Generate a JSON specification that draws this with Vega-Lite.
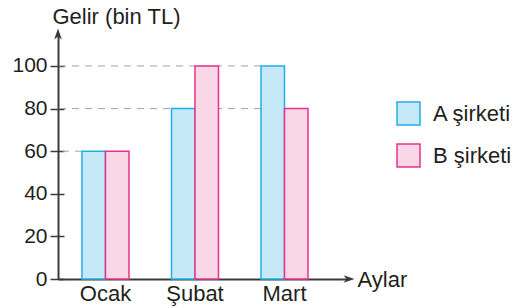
{
  "$schema": "https://vega.github.io/schema/vega-lite/v6.json",
  "width": 291,
  "height": 245,
  "autosize": "none",
  "padding": {"left": 58, "top": 34, "right": 179, "bottom": 29},
  "background": "white",
  "config": {
    "view": {"stroke": null},
    "font": "Liberation Sans",
    "axis": {
      "labelFont": "Liberation Sans",
      "titleFont": "Liberation Sans",
      "labelFontSize": 21,
      "titleFontSize": 22,
      "titleFontWeight": "normal",
      "labelColor": "#231f20",
      "titleColor": "#231f20",
      "domain": true,
      "domainColor": "#3a3a3a",
      "domainWidth": 2,
      "tickColor": "#3a3a3a",
      "tickWidth": 1.5,
      "grid": false
    }
  },
  "datasets": {
    "bars": [
      {"month": "Ocak", "company": "A şirketi", "value": 60},
      {"month": "Ocak", "company": "B şirketi", "value": 60},
      {"month": "Şubat", "company": "A şirketi", "value": 80},
      {"month": "Şubat", "company": "B şirketi", "value": 100},
      {"month": "Mart", "company": "A şirketi", "value": 100},
      {"month": "Mart", "company": "B şirketi", "value": 80}
    ],
    "guides": [
      {"value": 60, "end": "Ocak"},
      {"value": 80, "end": "Mart"},
      {"value": 100, "end": "Mart"}
    ],
    "arrow": [{"axis": "y"}]
  },
  "layer": [
    {
      "layer": [
        {
          "data": {"name": "guides"},
          "mark": {"type": "rule", "strokeDash": [7, 6], "color": "#a3a3a3", "strokeWidth": 1},
          "encoding": {
            "x": {"field": "end", "type": "nominal", "bandPosition": 0, "sort": null,
                  "scale": {"domain": ["Ocak", "Şubat", "Mart"], "paddingInner": 0.475, "paddingOuter": 0.363, "align": 0.369},
                  "axis": {"title": "Aylar", "labelAngle": 0, "ticks": false, "bandPosition": 0.5, "labelPadding": 4, "labelBaseline": "top",
                           "labelFontSize": 22,
                           "titleX": 299, "titleY": 7, "titleAlign": "left", "titleBaseline": "alphabetic", "titleAngle": 0}},
            "x2": {"value": 0},
            "y": {"field": "value", "type": "quantitative", "title": "Gelir (bin TL)"}
          }
        },
        {
          "data": {"name": "bars"},
          "mark": {"type": "bar", "strokeWidth": 1.5, "opacity": 1},
          "encoding": {
            "x": {"field": "month", "type": "nominal", "sort": null,
                  "scale": {"domain": ["Ocak", "Şubat", "Mart"], "paddingInner": 0.475, "paddingOuter": 0.363, "align": 0.369},
                  "axis": {"title": "Aylar", "labelAngle": 0, "ticks": false, "bandPosition": 0.5, "labelPadding": 4, "labelBaseline": "top",
                           "labelFontSize": 22,
                           "titleX": 299, "titleY": 7, "titleAlign": "left", "titleBaseline": "alphabetic", "titleAngle": 0}},
            "xOffset": {"field": "company", "type": "nominal", "scale": {"paddingInner": 0, "paddingOuter": 0}},
            "y": {"field": "value", "type": "quantitative",
                  "scale": {"domain": [0, 115], "nice": false},
                  "axis": {"title": "Gelir (bin TL)", "values": [0, 20, 40, 60, 80, 100], "tickSize": 8, "labelPadding": 3,
                           "titleAngle": 0, "titleAlign": "left", "titleBaseline": "alphabetic", "titleX": -6, "titleY": -11}},
            "color": {"field": "company", "type": "nominal",
                      "scale": {"domain": ["A şirketi", "B şirketi"], "range": ["#c6e9f8", "#f9d7e6"]},
                      "legend": {"orient": "none", "legendX": 338, "legendY": 67, "title": null, "symbolType": "square",
                                 "symbolSize": 529, "symbolStrokeWidth": 1.5, "labelFontSize": 22, "labelFont": "Liberation Sans",
                                 "labelOffset": 12, "rowPadding": 13, "labelColor": "#231f20", "padding": 0, "symbolOpacity": 1}},
            "stroke": {"field": "company", "type": "nominal",
                       "scale": {"domain": ["A şirketi", "B şirketi"], "range": ["#22aee6", "#e8328f"]},
                       "legend": {"orient": "none", "legendX": 338, "legendY": 67, "title": null, "symbolType": "square",
                                  "symbolSize": 529, "symbolStrokeWidth": 1.5, "labelFontSize": 22, "labelFont": "Liberation Sans",
                                  "labelOffset": 12, "rowPadding": 13, "labelColor": "#231f20", "padding": 0, "symbolOpacity": 1}}
          }
        }
      ]
    },
    {
      "data": {"name": "arrow"},
      "layer": [
        {
          "mark": {"type": "point", "filled": true, "color": "#3a3a3a", "opacity": 1, "size": 121,
                   "shape": "M0,-1L0.7,1L0,0.45L-0.7,1Z"},
          "encoding": {
            "x": {"datum": 0, "type": "quantitative", "scale": {"domain": [0, 1]}, "axis": null},
            "y": {"datum": 115, "type": "quantitative", "title": null,
                  "axis": {"orient": "left", "values": [0, 20, 40, 60, 80, 100], "tickSize": -6, "labels": false,
                           "domain": false, "title": null, "grid": false}}
          }
        },
        {
          "mark": {"type": "point", "filled": true, "color": "#3a3a3a", "opacity": 1, "size": 121,
                   "shape": "M1,0L-1,-0.7L-0.45,0L-1,0.7Z"},
          "encoding": {
            "x": {"datum": 1, "type": "quantitative", "scale": {"domain": [0, 1]}, "axis": null},
            "y": {"datum": 0, "type": "quantitative", "title": null}
          }
        }
      ]
    }
  ],
  "resolve": {"scale": {"x": "independent"}, "axis": {"y": "independent"}}
}
